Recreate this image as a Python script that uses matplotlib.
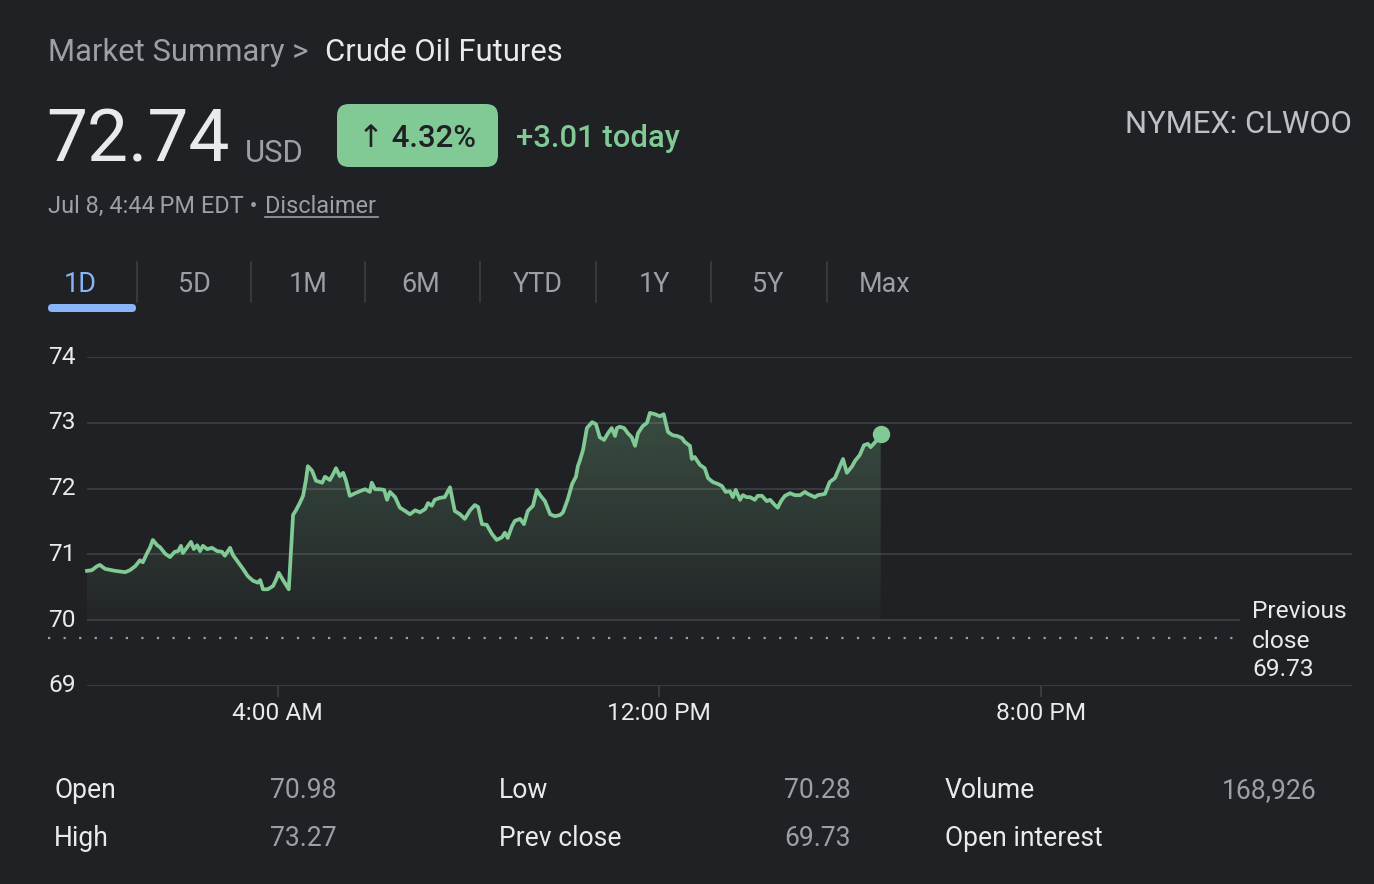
import matplotlib
matplotlib.use("Agg")
import matplotlib.pyplot as plt
import numpy as np
from matplotlib.colors import to_rgb
from matplotlib.patches import FancyBboxPatch, PathPatch

plt.rcParams['font.family'] = ['Roboto', 'DejaVu Sans']

# intraday prices, hours after midnight (Jul 8)
hours = [0.00, 0.10, 0.21, 0.27, 0.38, 0.59, 0.80, 0.90, 1.01, 1.11, 1.17, 1.26, 1.32, 1.38,
         1.47, 1.53, 1.64, 1.74, 1.84, 1.91, 1.97, 2.01, 2.12, 2.18, 2.24, 2.31, 2.37, 2.43,
         2.52, 2.62, 2.73, 2.83, 2.89, 3.00, 3.06, 3.17, 3.27, 3.37, 3.48, 3.58, 3.63, 3.69,
         3.79, 3.90, 3.96, 4.02, 4.11, 4.23, 4.32, 4.38, 4.46, 4.53, 4.59, 4.63, 4.72, 4.80,
         4.93, 4.99, 5.09, 5.16, 5.22, 5.30, 5.37, 5.43, 5.51, 5.62, 5.72, 5.83, 5.93, 5.97,
         6.04, 6.14, 6.23, 6.29, 6.35, 6.46, 6.56, 6.67, 6.77, 6.88, 6.98, 7.09, 7.15, 7.23,
         7.29, 7.40, 7.50, 7.61, 7.71, 7.82, 7.92, 8.03, 8.13, 8.20, 8.28, 8.38, 8.49, 8.59,
         8.70, 8.76, 8.82, 8.91, 8.97, 9.08, 9.16, 9.24, 9.35, 9.43, 9.50, 9.60, 9.71, 9.81,
         9.92, 9.98, 10.08, 10.17, 10.25, 10.29, 10.33, 10.40, 10.48, 10.59, 10.67, 10.75,
         10.84, 10.92, 11.00, 11.07, 11.11, 11.17, 11.26, 11.34, 11.42, 11.49, 11.55, 11.65,
         11.74, 11.80, 11.91, 12.01, 12.09, 12.18, 12.28, 12.37, 12.47, 12.53, 12.64, 12.68,
         12.74, 12.85, 12.95, 13.02, 13.12, 13.23, 13.31, 13.39, 13.48, 13.54, 13.60, 13.69,
         13.75, 13.83, 13.90, 14.00, 14.06, 14.15, 14.25, 14.32, 14.42, 14.48, 14.55, 14.63,
         14.74, 14.84, 14.95, 15.05, 15.11, 15.26, 15.32, 15.47, 15.57, 15.68, 15.78, 15.85,
         15.93, 16.04, 16.10, 16.20, 16.29, 16.37, 16.43, 16.54, 16.64]
prices = [70.75, 70.76, 70.82, 70.84, 70.78, 70.75, 70.73, 70.76, 70.82, 70.91, 70.88, 71.02,
          71.10, 71.22, 71.14, 71.11, 71.01, 70.96, 71.04, 71.05, 71.13, 71.02, 71.13, 71.19,
          71.08, 71.14, 71.05, 71.13, 71.08, 71.10, 71.05, 71.04, 70.98, 71.10, 70.99, 70.88,
          70.78, 70.67, 70.60, 70.57, 70.61, 70.47, 70.47, 70.52, 70.61, 70.72, 70.61, 70.47,
          71.60, 71.67, 71.78, 71.89, 72.13, 72.34, 72.27, 72.12, 72.09, 72.18, 72.13, 72.22,
          72.31, 72.19, 72.24, 72.12, 71.89, 71.93, 71.96, 71.99, 71.95, 72.09, 71.99, 71.99,
          71.98, 71.83, 71.95, 71.87, 71.71, 71.66, 71.61, 71.67, 71.64, 71.69, 71.78, 71.74,
          71.83, 71.86, 71.87, 72.02, 71.66, 71.61, 71.54, 71.67, 71.75, 71.72, 71.46, 71.45,
          71.31, 71.22, 71.26, 71.33, 71.25, 71.43, 71.51, 71.54, 71.46, 71.66, 71.74, 71.98,
          71.90, 71.81, 71.61, 71.58, 71.60, 71.64, 71.84, 72.07, 72.18, 72.34, 72.42, 72.59,
          72.92, 73.01, 72.98, 72.78, 72.74, 72.84, 72.92, 72.80, 72.92, 72.94, 72.92, 72.84,
          72.78, 72.65, 72.84, 72.95, 73.00, 73.15, 73.13, 73.10, 73.13, 72.86, 72.81, 72.80,
          72.77, 72.71, 72.65, 72.45, 72.48, 72.36, 72.31, 72.16, 72.10, 72.07, 72.04, 71.95,
          71.96, 71.87, 71.98, 71.83, 71.90, 71.87, 71.87, 71.83, 71.89, 71.89, 71.81, 71.83,
          71.75, 71.71, 71.81, 71.89, 71.93, 71.90, 71.90, 71.95, 71.92, 71.87, 71.90, 71.92,
          72.10, 72.16, 72.33, 72.45, 72.24, 72.34, 72.42, 72.51, 72.66, 72.68, 72.63, 72.72,
          72.83]

prev_close = 69.73
y_ticks = [69, 70, 71, 72, 73, 74]
x_ticks = [4, 12, 20]
x_tick_labels = ["4:00 AM", "12:00 PM", "8:00 PM"]
ranges = ["1D", "5D", "1M", "6M", "YTD", "1Y", "5Y", "Max"]
stat_names = [["Open", "High"], ["Low", "Prev close"], ["Volume", "Open interest"]]
stat_values = [["70.98", "73.27"], ["70.28", "69.73"], ["168,926", ""]]

BG = "#202124"
GREEN = "#81c995"
WHITE = "#e8eaed"
GREY = "#9aa0a6"
GRID = "#3c4043"
BLUE = "#8ab4f8"

W, H = 1374, 884
PX_HOUR = 47.7   # pixels per hour on the chart
PX_UNIT = 65.8   # pixels per dollar on the chart


def fs(px):
    return px * 72 / 100


fig = plt.figure(figsize=(W / 100, H / 100), dpi=100, facecolor=BG)

# pixel canvas for the header and the stats table
cv = fig.add_axes([0, 0, 1, 1])
cv.set_xlim(0, W)
cv.set_ylim(H, 0)
cv.axis("off")

cv.text(48, 61, "Market Summary >", color=GREY, fontsize=fs(31), va="baseline")
cv.text(325, 61, "Crude Oil Futures", color=WHITE, fontsize=fs(31), va="baseline")

cv.text(46, 162, "72.74", color=WHITE, fontsize=fs(73), va="baseline")
cv.text(245, 162, "USD", color=GREY, fontsize=fs(31), va="baseline")
cv.add_patch(FancyBboxPatch((337, 104), 161, 63, boxstyle="round,pad=0,rounding_size=12",
                            facecolor=GREEN, edgecolor="none"))
cv.text(417.5, 147, "\u2191 4.32%", color=BG, fontsize=fs(31), ha="center", va="baseline",
        fontweight="medium")
cv.text(516, 147, "+3.01 today", color=GREEN, fontsize=fs(31), va="baseline", fontweight="medium")
cv.text(1352, 133, "NYMEX: CLWOO", color="#bdc1c6", fontsize=fs(31), ha="right", va="baseline")

cv.text(48, 213, "Jul 8, 4:44\u2009PM EDT \u2022", color=GREY, fontsize=fs(23.5), va="baseline")
cv.text(265, 213, "Disclaimer", color=GREY, fontsize=fs(23.5), va="baseline")
cv.plot([265, 378], [217, 217], color=GREY, lw=1.2)

tab_x = [80, 194, 308, 421, 538, 654, 768, 885]
for i, (lbl, x) in enumerate(zip(ranges, tab_x)):
    cv.text(x, 292, lbl, color=BLUE if i == 0 else GREY, fontsize=fs(27),
            ha="center", va="baseline")
    if i > 0:
        sep = (tab_x[i - 1] + x) / 2
        cv.plot([sep, sep], [262, 302], color=GRID, lw=1.2)
cv.add_patch(FancyBboxPatch((48, 304), 88, 8, boxstyle="round,pad=0,rounding_size=4",
                            facecolor=BLUE, edgecolor="none"))

cv.text(1252, 611, "Previous", color=WHITE, fontsize=fs(24.5), va="center")
cv.text(1252, 641, "close", color=WHITE, fontsize=fs(24.5), va="center")
cv.text(1252, 670, f"{prev_close:.2f}", color=WHITE, fontsize=fs(24.5), va="center")

col_label_x = [54, 499, 945]
col_value_x = [337, 851, 1317]
row_y = [791, 839]
for c in range(3):
    for r in range(2):
        cv.text(col_label_x[c], row_y[r], stat_names[c][r], color=WHITE, fontsize=fs(26.5), va="center")
        cv.text(col_value_x[c], row_y[r], stat_values[c][r], color=GREY, fontsize=fs(26.5),
                ha="right", va="center")

# price chart
ax = fig.add_axes([48 / W, 1 - 686 / H, (1352 - 48) / W, (686 - 357) / H])
ax.set_facecolor("none")
x0 = -(87 - 48) / PX_HOUR
x1 = (1352 - 87) / PX_HOUR
grid_cut = (1240 - 87) / PX_HOUR
ax.set_xlim(x0, x1)
ax.set_ylim(69, 74)
ax.axis("off")

for v in y_ticks:
    ax.hlines(v, 0, grid_cut if v == 70 else x1, color=GRID, lw=1.3, zorder=0)
    ax.text(x0, v, str(v), color=WHITE, fontsize=fs(24.5), ha="left", va="center")
ax.hlines(prev_close, x0, grid_cut, color=GREY, lw=1.6, linestyles=(0, (1, 6)), zorder=1)

for t, lbl in zip(x_ticks, x_tick_labels):
    ax.vlines(t, 69 - 11 / PX_UNIT, 69, color=GRID, lw=1.3, clip_on=False)
    ax.text(t, 69 - 27 / PX_UNIT, lbl, color=WHITE, fontsize=fs(24.5), ha="center", va="center",
            clip_on=False)

# gradient fill under the line
fill = ax.fill_between(hours, prices, 70, color="none")
clip = PathPatch(fill.get_paths()[0], transform=ax.transData, facecolor="none", edgecolor="none")
ax.add_patch(clip)
rgba = np.zeros((256, 1, 4))
rgba[..., :3] = to_rgb(GREEN)
rgba[..., 3] = np.linspace(0.03, 0.26, 256).reshape(-1, 1)
im = ax.imshow(rgba, extent=[hours[0], hours[-1], 70, max(prices)], origin="lower",
               aspect="auto", zorder=1)
im.set_clip_path(clip)
ax.set_xlim(x0, x1)
ax.set_ylim(69, 74)

ax.plot(hours, prices, color=GREEN, lw=2.7, solid_joinstyle="round", zorder=3)
ax.plot(hours[-1], prices[-1], "o", color=GREEN, ms=11.5, zorder=4)

fig.savefig("out.png", dpi=100, facecolor=BG)
